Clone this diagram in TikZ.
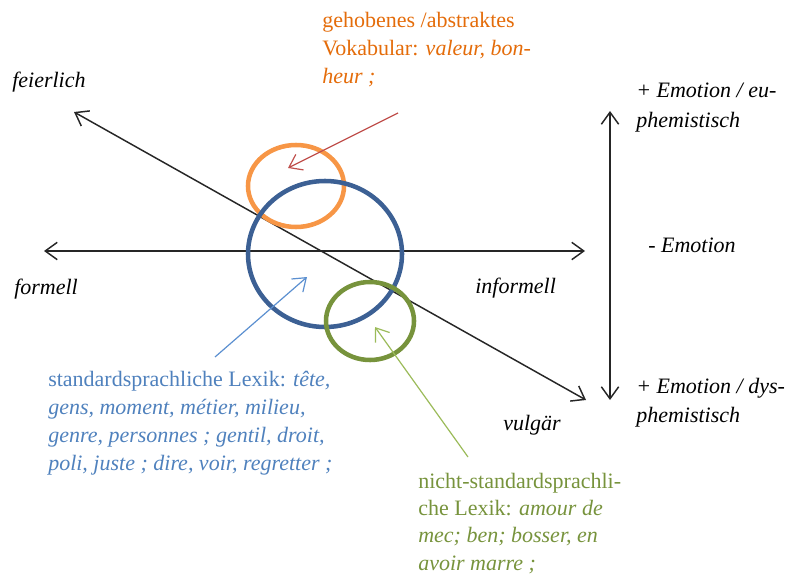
\documentclass[tikz,border=0pt]{standalone}
\usepackage{fontspec}
\setmainfont{Liberation Serif}
\usetikzlibrary{arrows.meta,shapes.geometric}
\definecolor{orangetext}{HTML}{E46C0A}
\definecolor{orangering}{HTML}{F79646}
\definecolor{bluering}{HTML}{3C6094}
\definecolor{bluetext}{HTML}{4F81BD}
\definecolor{bluearrow}{HTML}{5B8FD0}
\definecolor{greenring}{HTML}{77933C}
\definecolor{greentext}{HTML}{77933C}
\definecolor{greenarrow}{HTML}{9BBB59}
\definecolor{redarrow}{HTML}{C0504D}
\tikzset{
  axis/.style={line width=1.1pt,black!85,{Straight Barb[length=9pt,width=13pt,line width=1.1pt]}-{Straight Barb[length=9pt,width=13pt,line width=1.1pt]}},
  pointer/.style={line width=0.9pt,-{Straight Barb[length=9pt,width=13pt,line width=0.9pt]}},
  ring/.style={ellipse,draw,line width=3.4pt,inner sep=0pt},
  lbl/.style={inner sep=0pt,anchor=base west,font=\fontsize{16.5}{20.6}\selectfont\itshape},
  para/.style={inner sep=0pt,anchor=north west,align=left,font=\fontsize{16.5}{21.2}\selectfont},
  tightpara/.style={para,font=\fontsize{16.5}{20.4}\selectfont}
}
\begin{document}
\begin{tikzpicture}[x=0.75pt,y=-0.75pt]
  \useasboundingbox (0,0) rectangle (787,577);

  % axes
  \coordinate (hl) at (44,251);
  \coordinate (hr) at (585,251);
  \coordinate (dtl) at (74,112);
  \coordinate (dbr) at (586,400);
  \coordinate (vt) at (610,111);
  \coordinate (vb) at (610,400);
  \draw[axis] (hl) -- (hr);
  \draw[axis] (dtl) -- (dbr);
  \draw[axis] (vt) -- (vb);

  % rings
  \node[ring,draw=orangering,minimum width=72pt,minimum height=61.5pt] (orng) at (296,186) {};
  \node[ring,draw=bluering,minimum width=115.5pt,minimum height=109.5pt] (brng) at (325,254) {};
  \node[ring,draw=greenring,minimum width=66pt,minimum height=58.5pt] (grng) at (370,321) {};

  % axis labels
  \node[lbl] (feierlich) at (12,88) {feierlich};
  \node[lbl] (formell) at (14,294) {formell};
  \node[lbl] (informell) at (475,293) {informell};
  \node[lbl] (vulgaer) at (503,430) {vulgär};
  \node[lbl] (euA) at (636,98) {+ Emotion / eu-};
  \node[lbl] (euB) at (636,128) {phemistisch};
  \node[lbl] (neutral) at (648,252) {- Emotion};
  \node[lbl] (dysA) at (636,393) {+ Emotion / dys-};
  \node[lbl] (dysB) at (636,422) {phemistisch};

  % descriptive texts
  \node[para,text=orangetext] (gehoben) at (322,11.5)
    {gehobenes /abstraktes\\Vokabular: \textit{valeur, bon-}\\\textit{heur ;}};
  \node[para,text=bluetext] (standard) at (48,370.5)
    {standardsprachliche Lexik: \textit{tête,}\\\textit{gens, moment, métier, milieu,}\\\textit{genre, personnes ; gentil, droit,}\\\textit{poli, juste ; dire, voir, regretter ;}};
  \node[tightpara,text=greentext] (nonstd) at (418,473)
    {nicht-standardsprachli-\\che Lexik: \textit{amour de}\\\textit{mec; ben; bosser, en}\\\textit{avoir marre ;}};

  % pointers
  \coordinate (rs) at (398,113);
  \coordinate (rt) at (288,168);
  \coordinate (bs) at (215,357);
  \coordinate (bt) at (307,277);
  \coordinate (gs) at (468,457);
  \coordinate (gt) at (375,327);
  \draw[pointer,redarrow] (rs) -- (rt);
  \draw[pointer,bluearrow] (bs) -- (bt);
  \draw[pointer,greenarrow] (gs) -- (gt);
\end{tikzpicture}
\end{document}
